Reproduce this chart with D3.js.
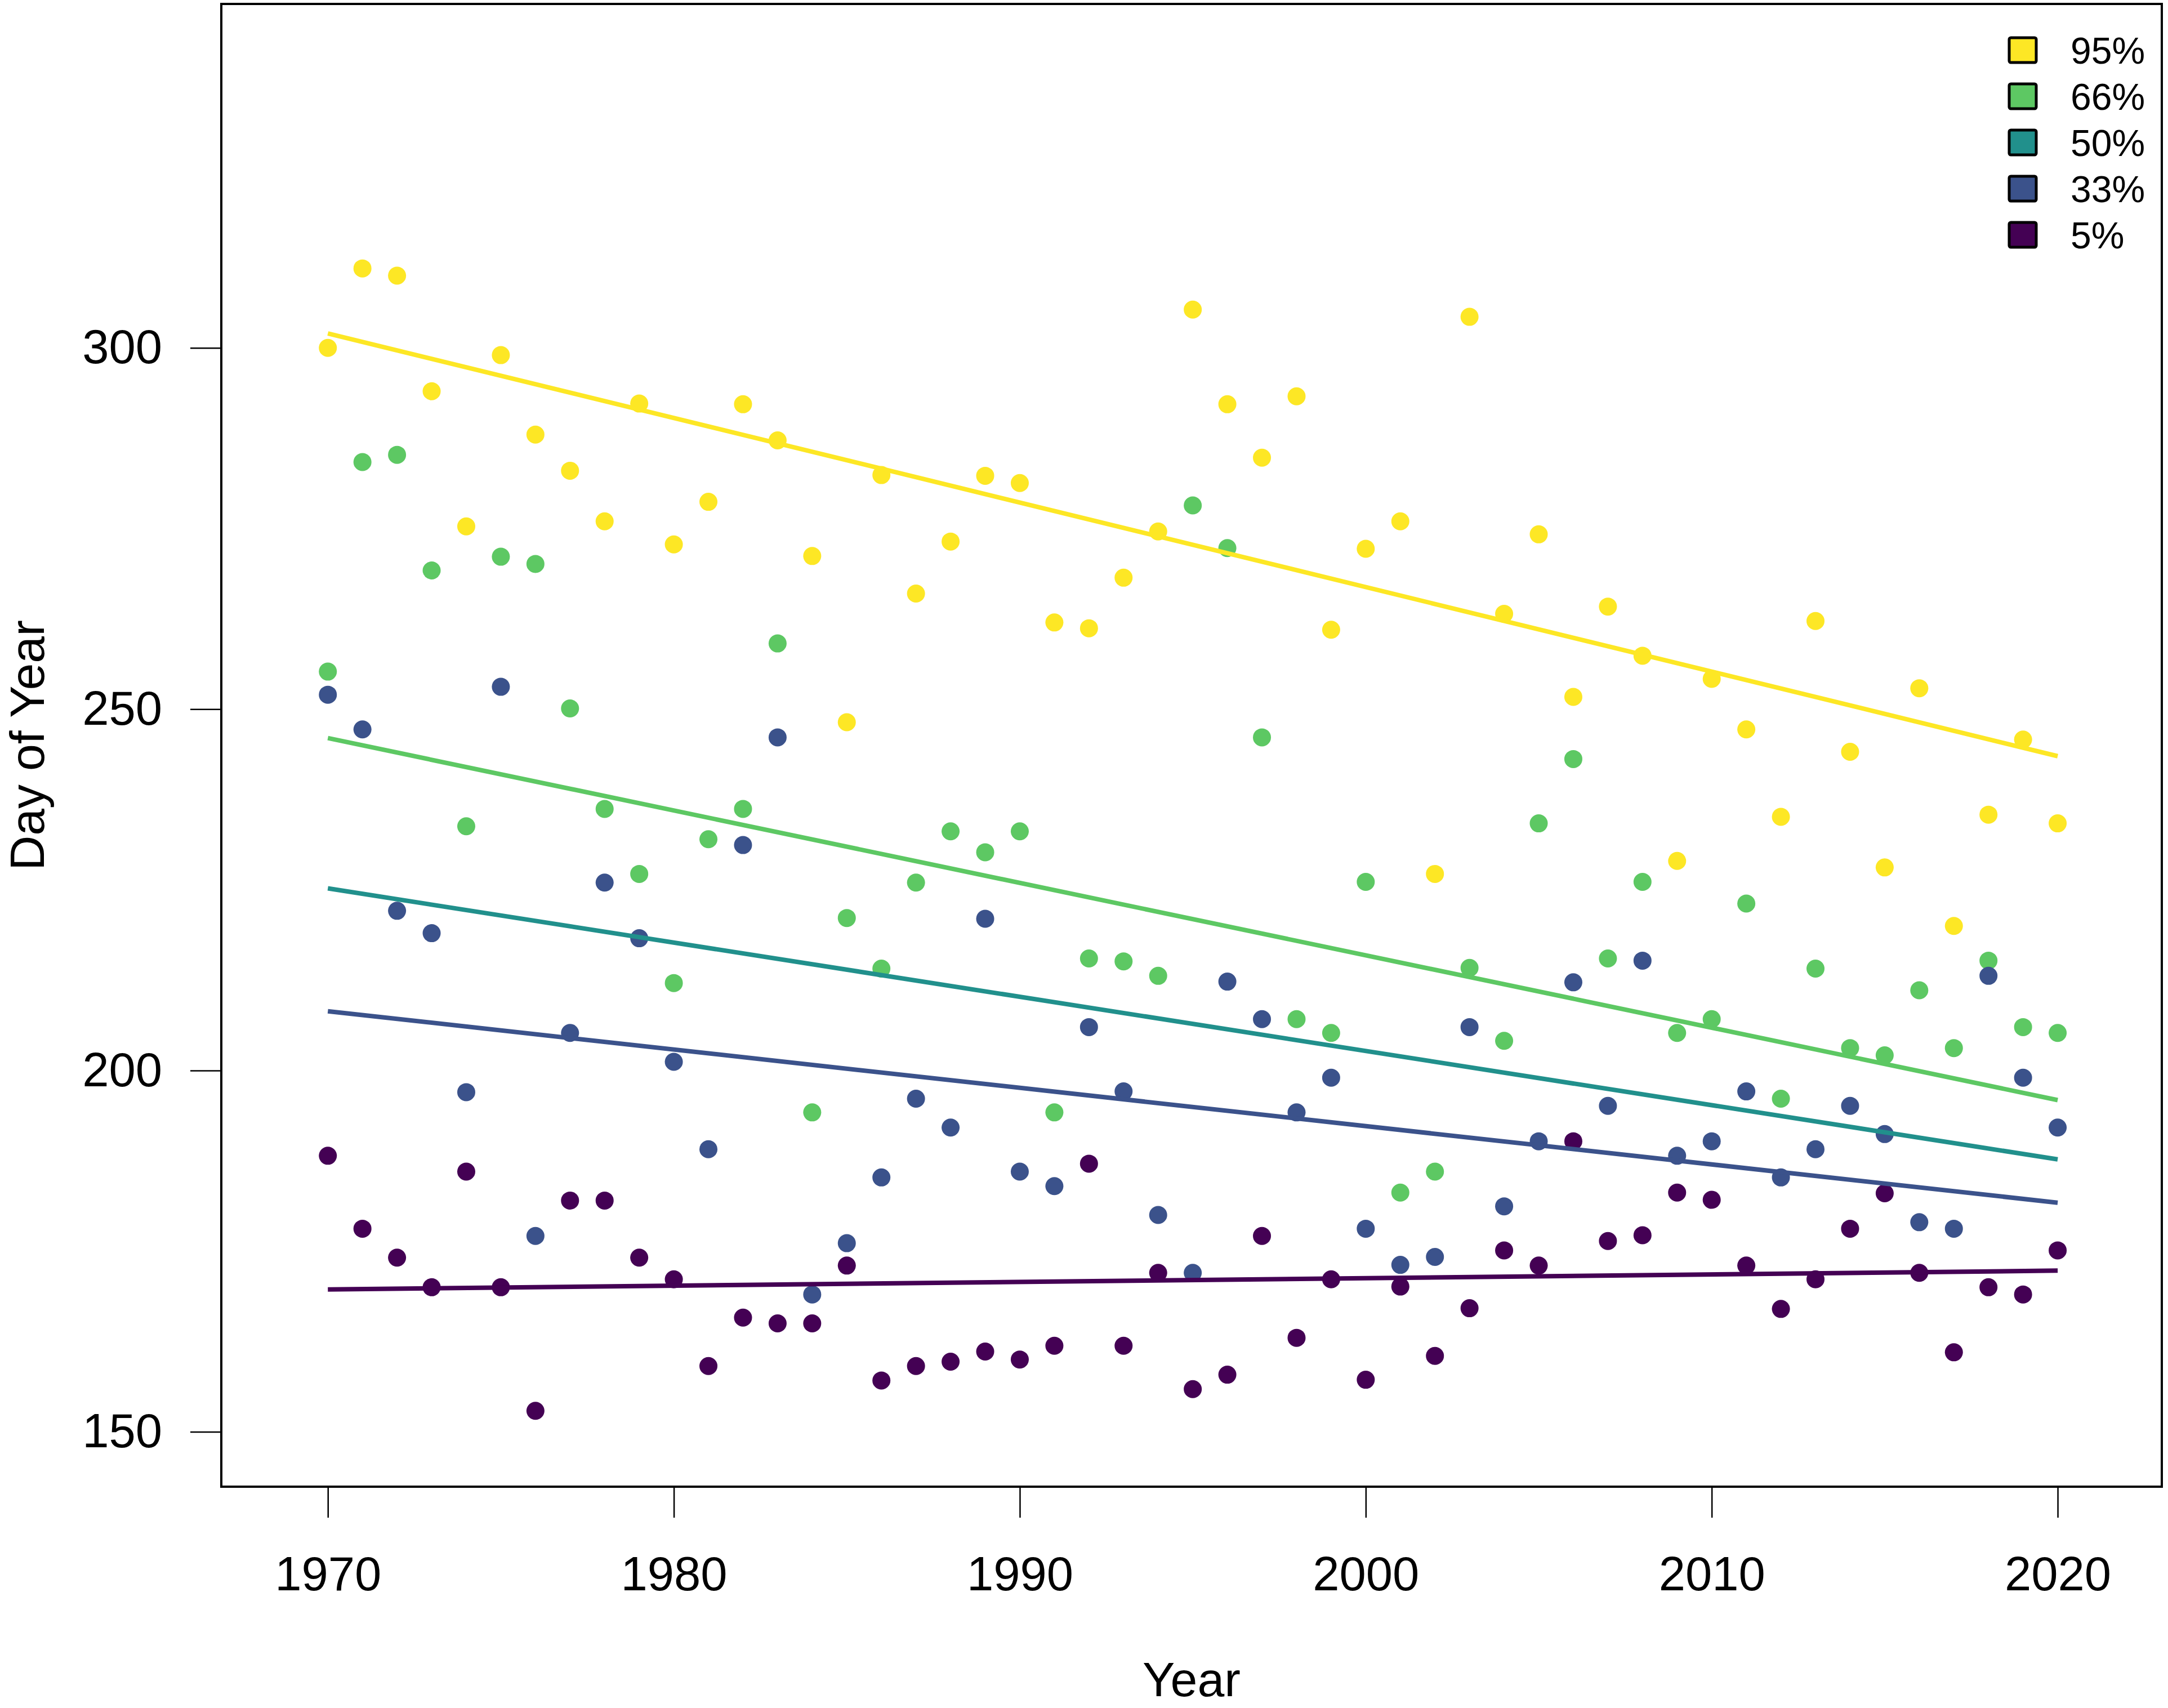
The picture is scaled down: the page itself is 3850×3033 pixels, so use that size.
<!DOCTYPE html>
<html>
<head>
<meta charset="utf-8">
<script src="https://cdn.jsdelivr.net/npm/d3@7"></script>
<style>
  html, body { margin: 0; padding: 0; background: #ffffff; }
  svg { display: block; }
  text { font-family: "Liberation Sans", Arial, sans-serif; fill: #000; }
</style>
</head>
<body>
<script>
// ---------------- DATA ----------------
const years = [1970,1971,1972,1973,1974,1975,1976,1977,1978,1979,
               1980,1981,1982,1983,1984,1985,1986,1987,1988,1989,
               1990,1991,1992,1993,1994,1995,1996,1997,1998,1999,
               2000,2001,2002,2003,2004,2005,2006,2007,2008,2009,
               2010,2011,2012,2013,2014,2015,2016,2017,2018,2019,2020];

const seriesNames = ["95%", "66%", "50%", "33%", "5%"];
const seriesColors = ["#FDE725", "#5DC863", "#21908C", "#3B528B", "#440154"];

const q95 = [300,311,310,294,275.3,299,288,283,276,292.3,
             272.8,278.7,292.2,287.2,271.2,248.2,282.4,266,273.2,282.3,
             281.3,262,261.2,268.2,274.6,305.3,292.2,284.8,293.3,261,
             272.2,276,227.2,304.3,263.2,274.2,251.7,264.2,257.4,229,
             254.2,247.2,235.1,262.2,244.1,228.1,252.9,220,235.4,245.8,234.2];

const q66 = [255.2,284.2,285.2,269.2,233.8,271.1,270.1,250.1,236.2,227.2,
             212.1,232,236.2,259.1,194.2,221.1,214.1,226,233.1,230.2,
             233.1,194.2,215.5,215.1,213.1,278.2,272.3,246.1,207.1,205.2,
             226.1,183.1,186,214.2,204.1,234.2,243.1,215.5,226.1,205.2,
             207.1,223.1,196.1,214.1,203.1,202.1,211.1,203.1,215.2,206,205.2];

const q33 = [252,247.2,222.1,219,197,253.1,177.1,205.2,226,218.3,
             201.2,189.1,231.2,246.1,169,176.1,185.2,196.1,192.1,221,
             186,184,206,197.1,180,172,212.3,207.1,194.2,199,
             178.1,173.1,174.2,206,181.2,190.2,212.2,195.1,215.2,188.2,
             190.2,197.1,185.2,189.1,195.1,191.2,179,178.1,213.1,199,192.1];

const q05 = [188.2,178.1,174.1,170,186,170,152.9,182,182,174.1,
             171.1,159.1,165.8,165,165,173,157.1,159.1,159.7,161.1,
             160,161.9,187.1,161.9,172,155.9,157.9,177.1,163,171.1,
             157.2,170.1,160.5,167.1,175.1,173,190.2,176.4,177.2,183.1,
             182.1,173,167,171.1,178.1,183,172,161,170,169,175.1];

// fitted trend lines (value at first and last year), per series
const trendStart = [302.0, 246.0, 225.2, 208.2, 169.7];
const trendEnd   = [243.5, 195.9, 187.7, 181.7, 172.3];

const yTicks = [150, 200, 250, 300];
const xTicks = [1970, 1980, 1990, 2000, 2010, 2020];

// points drawn for these series (50% shows only its trend line)
const pointSeries = [
  { values: q95, color: seriesColors[0] },
  { values: q66, color: seriesColors[1] },
  { values: q33, color: seriesColors[3] },
  { values: q05, color: seriesColors[4] }
];

// ---------------- LAYOUT ----------------
const W = 3850, H = 3033;
const plot = { left: 393, right: 3839, top: 7, bottom: 2640 };

const svg = d3.select("body").append("svg")
  .attr("width", W).attr("height", H)
  .attr("viewBox", `0 0 ${W} ${H}`);

const x = d3.scaleLinear().domain([1966.92, 2023.01]).range([plot.left, plot.right]);
const y = d3.scaleLinear().domain([142.4, 347.6]).range([plot.bottom, plot.top]);

// points
pointSeries.forEach(s => {
  svg.append("g").selectAll("circle")
    .data(years.map((yr, i) => ({ yr, v: s.values[i] })))
    .join("circle")
    .attr("cx", d => x(d.yr))
    .attr("cy", d => y(d.v))
    .attr("r", 16)
    .attr("fill", s.color);
});

// trend lines
const line = d3.line().x(d => x(d[0])).y(d => y(d[1]));
seriesNames.forEach((name, i) => {
  svg.append("path")
    .attr("d", line([[years[0], trendStart[i]], [years[years.length - 1], trendEnd[i]]]))
    .attr("stroke", seriesColors[i])
    .attr("stroke-width", 8)
    .attr("fill", "none");
});

// frame
svg.append("rect")
  .attr("x", plot.left).attr("y", plot.top)
  .attr("width", plot.right - plot.left).attr("height", plot.bottom - plot.top)
  .attr("fill", "none").attr("stroke", "#000").attr("stroke-width", 4);

// y axis
const gy = svg.append("g")
  .attr("transform", `translate(${plot.left},0)`)
  .call(d3.axisLeft(y).tickValues(yTicks).tickSize(55).tickPadding(50).tickFormat(d3.format("d")));
gy.select(".domain").remove();
gy.selectAll(".tick line").attr("stroke", "#000").attr("stroke-width", 2.5);
gy.selectAll(".tick text")
  .attr("font-size", 85)
  .attr("font-family", "Liberation Sans, Arial, sans-serif")
  .attr("fill", "#000");

// x axis
const gx = svg.append("g")
  .attr("transform", `translate(0,${plot.bottom})`)
  .call(d3.axisBottom(x).tickValues(xTicks).tickSize(55).tickFormat(d3.format("d")));
gx.select(".domain").remove();
gx.selectAll(".tick line").attr("stroke", "#000").attr("stroke-width", 2.5);
gx.selectAll(".tick text")
  .attr("font-size", 85)
  .attr("font-family", "Liberation Sans, Arial, sans-serif")
  .attr("fill", "#000")
  .attr("y", 184).attr("dy", null);

// axis titles
svg.append("text")
  .attr("x", (plot.left + plot.right) / 2).attr("y", 3012)
  .attr("text-anchor", "middle").attr("font-size", 86)
  .text("Year");

svg.append("text")
  .attr("transform", `translate(78,${(plot.top + plot.bottom) / 2}) rotate(-90)`)
  .attr("text-anchor", "middle").attr("font-size", 86)
  .text("Day of Year");

// legend
const legend = svg.append("g");
seriesNames.forEach((name, i) => {
  const cy = 89 + i * 82;
  legend.append("rect")
    .attr("x", 3568).attr("y", cy - 22)
    .attr("width", 48).attr("height", 44)
    .attr("rx", 3)
    .attr("fill", seriesColors[i])
    .attr("stroke", "#000").attr("stroke-width", 5);
  legend.append("text")
    .attr("x", 3677).attr("y", cy)
    .attr("dy", "0.36em")
    .attr("font-size", 66)
    .text(name);
});
</script>
</body>
</html>
